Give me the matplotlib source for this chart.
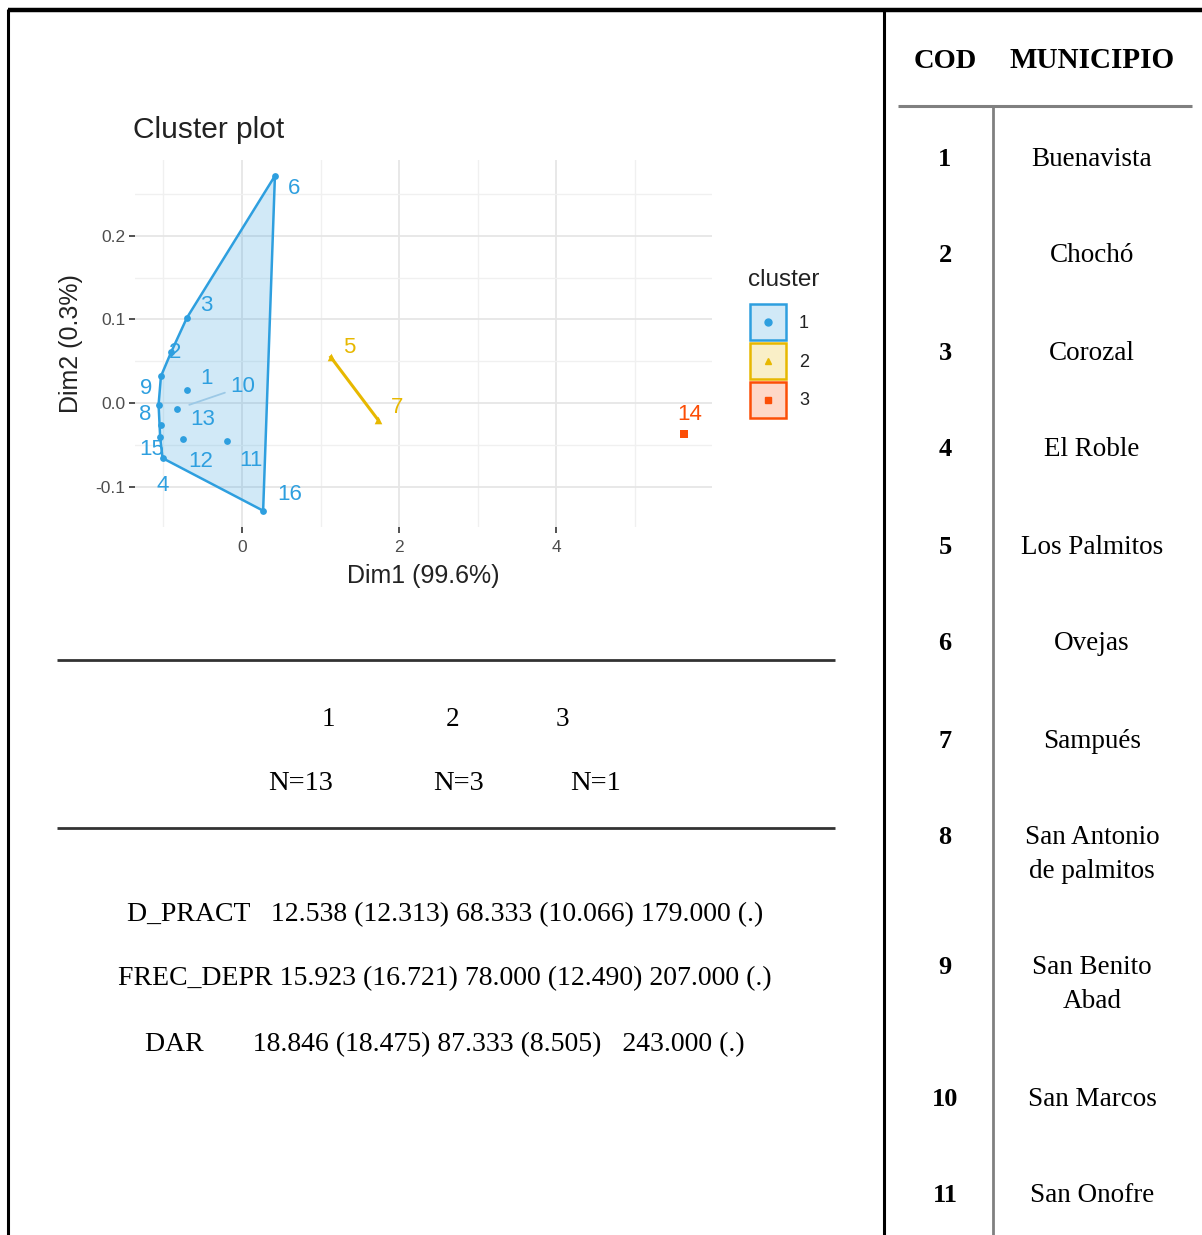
import numpy as np
import matplotlib
matplotlib.use("Agg")
import matplotlib.pyplot as plt
from matplotlib.patches import Polygon, Rectangle
from matplotlib.lines import Line2D

# ---------------- data ----------------
ids = [1, 2, 3, 4, 5, 6, 7, 8, 9, 10, 11, 12, 13, 14, 15, 16]
dim1 = [-0.70, -0.90, -0.70, -1.01, 1.13, 0.42, 1.73, -1.06, -1.03, -0.82, -0.19, -0.75, -1.03, 5.63, -1.04, 0.27]
dim2 = [0.016, 0.061, 0.102, -0.066, 0.055, 0.272, -0.020, -0.002, 0.032, -0.007, -0.046, -0.043, -0.026, -0.037, -0.041, -0.129]
cluster = [1, 1, 1, 1, 2, 1, 2, 1, 1, 1, 1, 1, 1, 3, 1, 1]
# label offsets (points) for the repelled labels
lab_dx = [14, 3, 14, 0, 13, 14, 14, -10, -11, 47, 17, 13, 30, 4, -6, 19]
lab_dy = [8, 0, 9, -20, 7, -9, 9, -7, -9, 16, -14, -16, 4, 14, -9, 12]

cluster_names = ["1", "2", "3"]
cluster_colors = ["#2E9FDF", "#E7B800", "#FC4E07"]
cluster_markers = ["o", "^", "s"]

x_label = "Dim1 (99.6%)"
y_label = "Dim2 (0.3%)"
x_ticks = [0, 2, 4]
y_ticks = [-0.1, 0.0, 0.1, 0.2]
y_tick_labels = ["-0.1", "0.0", "0.1", "0.2"]

summary_groups = ["1", "2", "3"]
summary_n = ["N=13", "N=3", "N=1"]
summary_rows = [
    "D_PRACT   12.538 (12.313) 68.333 (10.066) 179.000 (.)",
    "FREC_DEPR 15.923 (16.721) 78.000 (12.490) 207.000 (.)",
    "DAR       18.846 (18.475) 87.333 (8.505)   243.000 (.)",
]

cod = ["1", "2", "3", "4", "5", "6", "7", "8", "9", "10", "11"]
municipio = ["Buenavista", "Chochó", "Corozal", "El Roble", "Los Palmitos", "Ovejas",
             "Sampués", "San Antonio\nde palmitos", "San Benito\nAbad", "San Marcos", "San Onofre"]


def convex_hull(pts):
    pts = sorted(set(pts))
    if len(pts) <= 2:
        return pts
    def cross(o, a, b):
        return (a[0] - o[0]) * (b[1] - o[1]) - (a[1] - o[1]) * (b[0] - o[0])
    lower, upper = [], []
    for p in pts:
        while len(lower) >= 2 and cross(lower[-2], lower[-1], p) <= 0:
            lower.pop()
        lower.append(p)
    for p in reversed(pts):
        while len(upper) >= 2 and cross(upper[-2], upper[-1], p) <= 0:
            upper.pop()
        upper.append(p)
    return lower[:-1] + upper[:-1]


W, H = 1202, 1235
fig = plt.figure(figsize=(W / 100, H / 100), dpi=100)
fig.patch.set_facecolor("white")

# ---------------- cluster plot ----------------
sans = ["Liberation Sans", "DejaVu Sans"]
ax = fig.add_axes([135 / W, 1 - 527 / H, (712 - 135) / W, (527 - 160) / H])
ax.set_xlim(-1.36, 5.98)
ax.set_ylim(-0.1485, 0.291)
ax.set_facecolor("white")
for s in ax.spines.values():
    s.set_visible(False)
ax.set_xticks(x_ticks)
ax.set_xticklabels([str(t) for t in x_ticks], family=sans, fontsize=12.5, color="#4D4D4D")
ax.set_yticks(y_ticks)
ax.set_yticklabels(y_tick_labels, family=sans, fontsize=12.5, color="#4D4D4D")
ax.set_xticks([-1, 1, 3, 5], minor=True)
ax.set_yticks([-0.05, 0.05, 0.15, 0.25], minor=True)
ax.tick_params(axis="x", which="major", length=4, width=1.2, color="#333333", pad=5)
ax.tick_params(axis="y", which="major", length=4, width=1.2, color="#333333", pad=3)
ax.tick_params(axis="both", which="minor", length=0)
ax.grid(True, which="major", color="#E6E6E6", lw=1.3)
ax.grid(True, which="minor", color="#F0F0F0", lw=1.0)
ax.set_axisbelow(True)
ax.set_xlabel(x_label, family=sans, fontsize=18, color="#222222", labelpad=7)
ax.set_ylabel(y_label, family=sans, fontsize=18, color="#222222", labelpad=9)

dim1 = np.array(dim1)
dim2 = np.array(dim2)
cluster = np.array(cluster)
for ci, name in enumerate(cluster_names):
    k = ci + 1
    m = cluster == k
    col = cluster_colors[ci]
    pts = list(zip(dim1[m], dim2[m]))
    hull = convex_hull(pts)
    if len(hull) >= 3:
        ax.add_patch(Polygon(hull, closed=True, facecolor=col, alpha=0.22, edgecolor="none", zorder=2))
        ax.add_patch(Polygon(hull, closed=True, fill=False, edgecolor=col, lw=1.8, zorder=3))
    elif len(hull) == 2:
        hx, hy = zip(*hull)
        ax.plot(hx, hy, color=col, lw=2.2, zorder=3)
    ax.scatter(dim1[m], dim2[m], s=30 if k != 1 else 24, marker=cluster_markers[ci],
               color=col, zorder=4, linewidths=0)

for i, lab in enumerate(ids):
    col = cluster_colors[cluster[i] - 1]
    kw = dict(textcoords="offset points", ha="center", va="center",
              family=sans, fontsize=16, color=col, zorder=5)
    if lab == 10:
        kw["arrowprops"] = dict(arrowstyle="-", color="#9CC9E6", lw=1.3, shrinkA=2, shrinkB=9)
    ax.annotate(str(lab), (dim1[i], dim2[i]), xytext=(lab_dx[i], lab_dy[i]), **kw)

fig.text(133 / W, 1 - 130 / H, "Cluster plot", family=sans, fontsize=21.5,
         color="#222222", ha="left", va="center")

# legend (manual keys)
fig.text(748 / W, 1 - 280 / H, "cluster", family=sans, fontsize=17.5, color="#222222",
         ha="left", va="center")
for ci, name in enumerate(cluster_names):
    col = cluster_colors[ci]
    y0 = 303 + 39 * ci
    fig.patches.append(Rectangle((750 / W, 1 - (y0 + 37) / H), 36 / W, 36 / H,
                                 transform=fig.transFigure, facecolor=col, alpha=0.22,
                                 edgecolor="none"))
    fig.patches.append(Rectangle((750 / W, 1 - (y0 + 37) / H), 36 / W, 36 / H,
                                 transform=fig.transFigure, fill=False, edgecolor=col, lw=1.8))
    fig.lines.append(Line2D([768 / W], [1 - (y0 + 19) / H], transform=fig.transFigure,
                            marker=cluster_markers[ci], color=col, markersize=5, lw=0))
    fig.text(804 / W, 1 - (y0 + 20) / H, name, family=sans, fontsize=13, color="#222222",
             ha="center", va="center")

# ---------------- document/table layer ----------------
doc = fig.add_axes([0, 0, 1, 1], zorder=-1)
doc.set_xlim(0, W)
doc.set_ylim(H, 0)
doc.axis("off")

serif = ["Liberation Serif", "DejaVu Serif"]
# borders
doc.plot([8, W], [10, 10], color="black", lw=3.2, solid_capstyle="butt")
doc.plot([8, 8], [9, H], color="black", lw=2.2, solid_capstyle="butt")
doc.plot([884, 884], [9, H], color="black", lw=2.2, solid_capstyle="butt")
doc.plot([898, 1192], [106, 106], color="#808080", lw=2.2, solid_capstyle="butt")
doc.plot([993, 993], [106, H], color="#808080", lw=2.0, solid_capstyle="butt")

# separators in the left part
doc.plot([57, 835], [660, 660], color="#333333", lw=2.0, solid_capstyle="butt")
doc.plot([57, 835], [828, 828], color="#333333", lw=2.0, solid_capstyle="butt")

dy = 3
for g, xg in zip(summary_groups, [328, 453, 562]):
    doc.text(xg, 716 + dy, g, family=serif, fontsize=19.5, ha="center", va="center", color="black")
for n, xn in zip(summary_n, [301, 459, 596]):
    doc.text(xn, 781 + dy, n, family=serif, fontsize=20.5, ha="center", va="center", color="black")
for row, yr in zip(summary_rows, [912, 976, 1042]):
    doc.text(445, yr + dy, row, family=serif, fontsize=20, ha="center", va="center", color="black")

# right table
doc.text(945, 58 + dy, "COD", family=serif, fontsize=20.5, weight="bold", ha="center", va="center")
doc.text(1092, 58 + dy, "MUNICIPIO", family=serif, fontsize=21, weight="bold", ha="center", va="center")
row_y = [156, 253, 350, 447, 545, 641, 739, 835, 965, 1096, 1193]
for c, mname, yr in zip(cod, municipio, row_y):
    doc.text(945, yr + dy, c, family=serif, fontsize=19, weight="bold", ha="center", va="center")
    for j, line in enumerate(mname.split("\n")):
        doc.text(1092, yr + dy + 34 * j, line, family=serif, fontsize=19.5,
                 ha="center", va="center")

fig.savefig("out.png", dpi=100, facecolor="white")
